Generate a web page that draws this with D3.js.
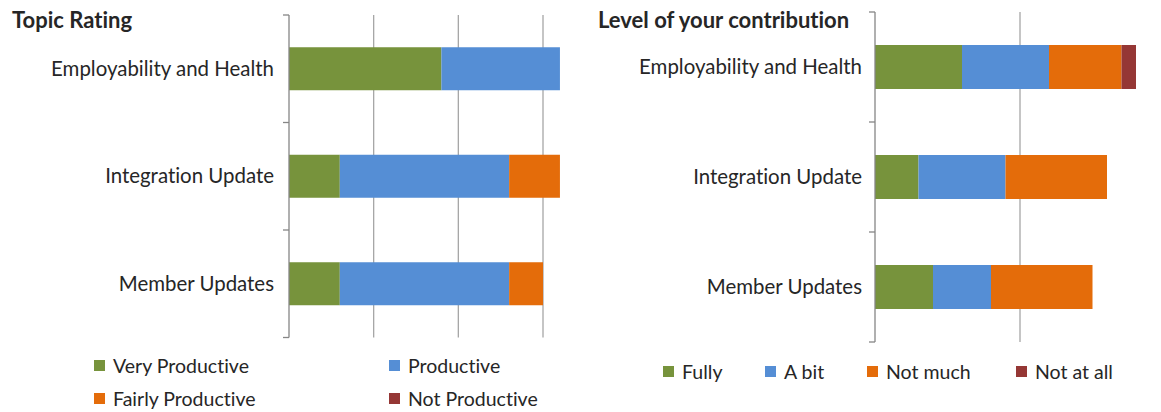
<!DOCTYPE html>
<html><head><meta charset="utf-8">
<script src="https://cdn.jsdelivr.net/npm/d3@7"></script>
<style>body{margin:0;background:#fff}svg{display:block}text{font-family:Lato,"Noto Sans",sans-serif;fill:#262626;font-variant-ligatures:none;font-feature-settings:"liga" 0,"clig" 0}</style>
</head><body><svg id="c" width="1161" height="412"></svg>
<script>
const categories = ["Employability and Health","Integration Update","Member Updates"];
// Left chart: Topic Rating
const ratingSeries = ["Very Productive","Productive","Fairly Productive","Not Productive"];
const veryProductive = [9,3,3];
const productive = [7,10,10];
const fairlyProductive = [0,3,2];
const notProductive = [0,0,0];
const ratingTicks = [0,5,10,15];
// Right chart: Level of your contribution
const contribSeries = ["Fully","A bit","Not much","Not at all"];
const fully = [6,3,4];
const aBit = [6,6,4];
const notMuch = [5,7,7];
const notAtAll = [1,0,0];
const contribTicks = [0,10,20];
const colors = ["#77933C","#558ED5","#E46C0A","#953735"];

const svg = d3.select("#c");

function fitSize(text, weight, target){
  const t = svg.append("text").attr("font-size",100).attr("font-weight",weight).text(text);
  const w = t.node().getComputedTextLength(); t.remove();
  return 100*target/w;
}
const labelSize = fitSize("Employability and Health", 400, 223);
const legendSize = fitSize("Very Productive", 400, 136);
const titleSize = fitSize("Topic Rating", 700, 120);

function panel(cfg){
  const rows = categories.map((c,i)=>{const r={cat:c}; cfg.series.forEach((s,j)=>r[s]=cfg.values[j][i]); return r;});
  const stack = d3.stack().keys(cfg.series)(rows);
  const x = d3.scaleLinear().domain([0,cfg.unitDomain]).range([cfg.x0, cfg.x1]);
  const y = d3.scaleBand().domain(categories).range([cfg.y0, cfg.y1]).paddingInner(0.6).paddingOuter(0.3);
  const g = svg.append("g");
  // gridlines
  g.selectAll("line.grid").data(cfg.ticks.filter(t=>t>0)).join("line")
    .attr("x1",d=>x(d)).attr("x2",d=>x(d)).attr("y1",cfg.y0).attr("y2",cfg.y1)
    .attr("stroke","#A6A6A6").attr("stroke-width",1.3);
  // bars
  g.selectAll("g.s").data(stack).join("g").attr("fill",(d,i)=>colors[i])
    .selectAll("rect").data(d=>d).join("rect")
    .attr("x",d=>x(d[0])).attr("width",d=>x(d[1])-x(d[0]))
    .attr("y",d=>y(d.data.cat)).attr("height",y.bandwidth());
  // y axis
  const yAxis = d3.axisLeft(y).tickSize(0).tickPadding(cfg.pad);
  const ag = g.append("g").attr("transform",`translate(${cfg.x0},0)`).call(yAxis);
  ag.select(".domain").remove();
  ag.selectAll("text").attr("font-size",labelSize).attr("font-family","Lato").attr("fill","#262626").attr("dy","0.35em");
  const bounds = [cfg.y0, ...categories.slice(1).map(c=>y(c)-y.step()*y.paddingInner()/2), cfg.y1];
  g.selectAll("line.tk").data(bounds).join("line")
    .attr("x1",cfg.x0-6).attr("x2",cfg.x0).attr("y1",d=>d).attr("y2",d=>d)
    .attr("stroke","#868686").attr("stroke-width",1.3);
  g.append("line").attr("x1",cfg.x0).attr("x2",cfg.x0).attr("y1",cfg.y0).attr("y2",cfg.y1)
    .attr("stroke","#868686").attr("stroke-width",1.3);
  // title
  svg.append("text").attr("x",cfg.titleX).attr("y",28).attr("font-weight",700)
    .attr("font-size",titleSize).attr("fill","#000").text(cfg.title);
  // legend
  const lg = svg.append("g");
  cfg.series.forEach((s,i)=>{
    const p = cfg.legendPos[i];
    lg.append("rect").attr("x",p[0]).attr("y",p[1]-6).attr("width",11).attr("height",11).attr("fill",colors[i]);
    lg.append("text").attr("x",p[0]+19).attr("y",p[1]).attr("dy","0.35em").attr("font-size",legendSize).text(s);
  });
}

panel({series:ratingSeries, values:[veryProductive,productive,fairlyProductive,notProductive],
  ticks:ratingTicks, unitDomain:15, x0:289, x1:543, y0:15, y1:337.5, pad:15,
  title:"Topic Rating", titleX:12,
  legendPos:[[94,366],[389,366],[94,399],[389,399]]});
panel({series:contribSeries, values:[fully,aBit,notMuch,notAtAll],
  ticks:contribTicks, unitDomain:10, x0:875, x1:1020, y0:12, y1:342, pad:13,
  title:"Level of your contribution", titleX:598,
  legendPos:[[663,372],[765,372],[867,372],[1016,372]]});
</script></body></html>
